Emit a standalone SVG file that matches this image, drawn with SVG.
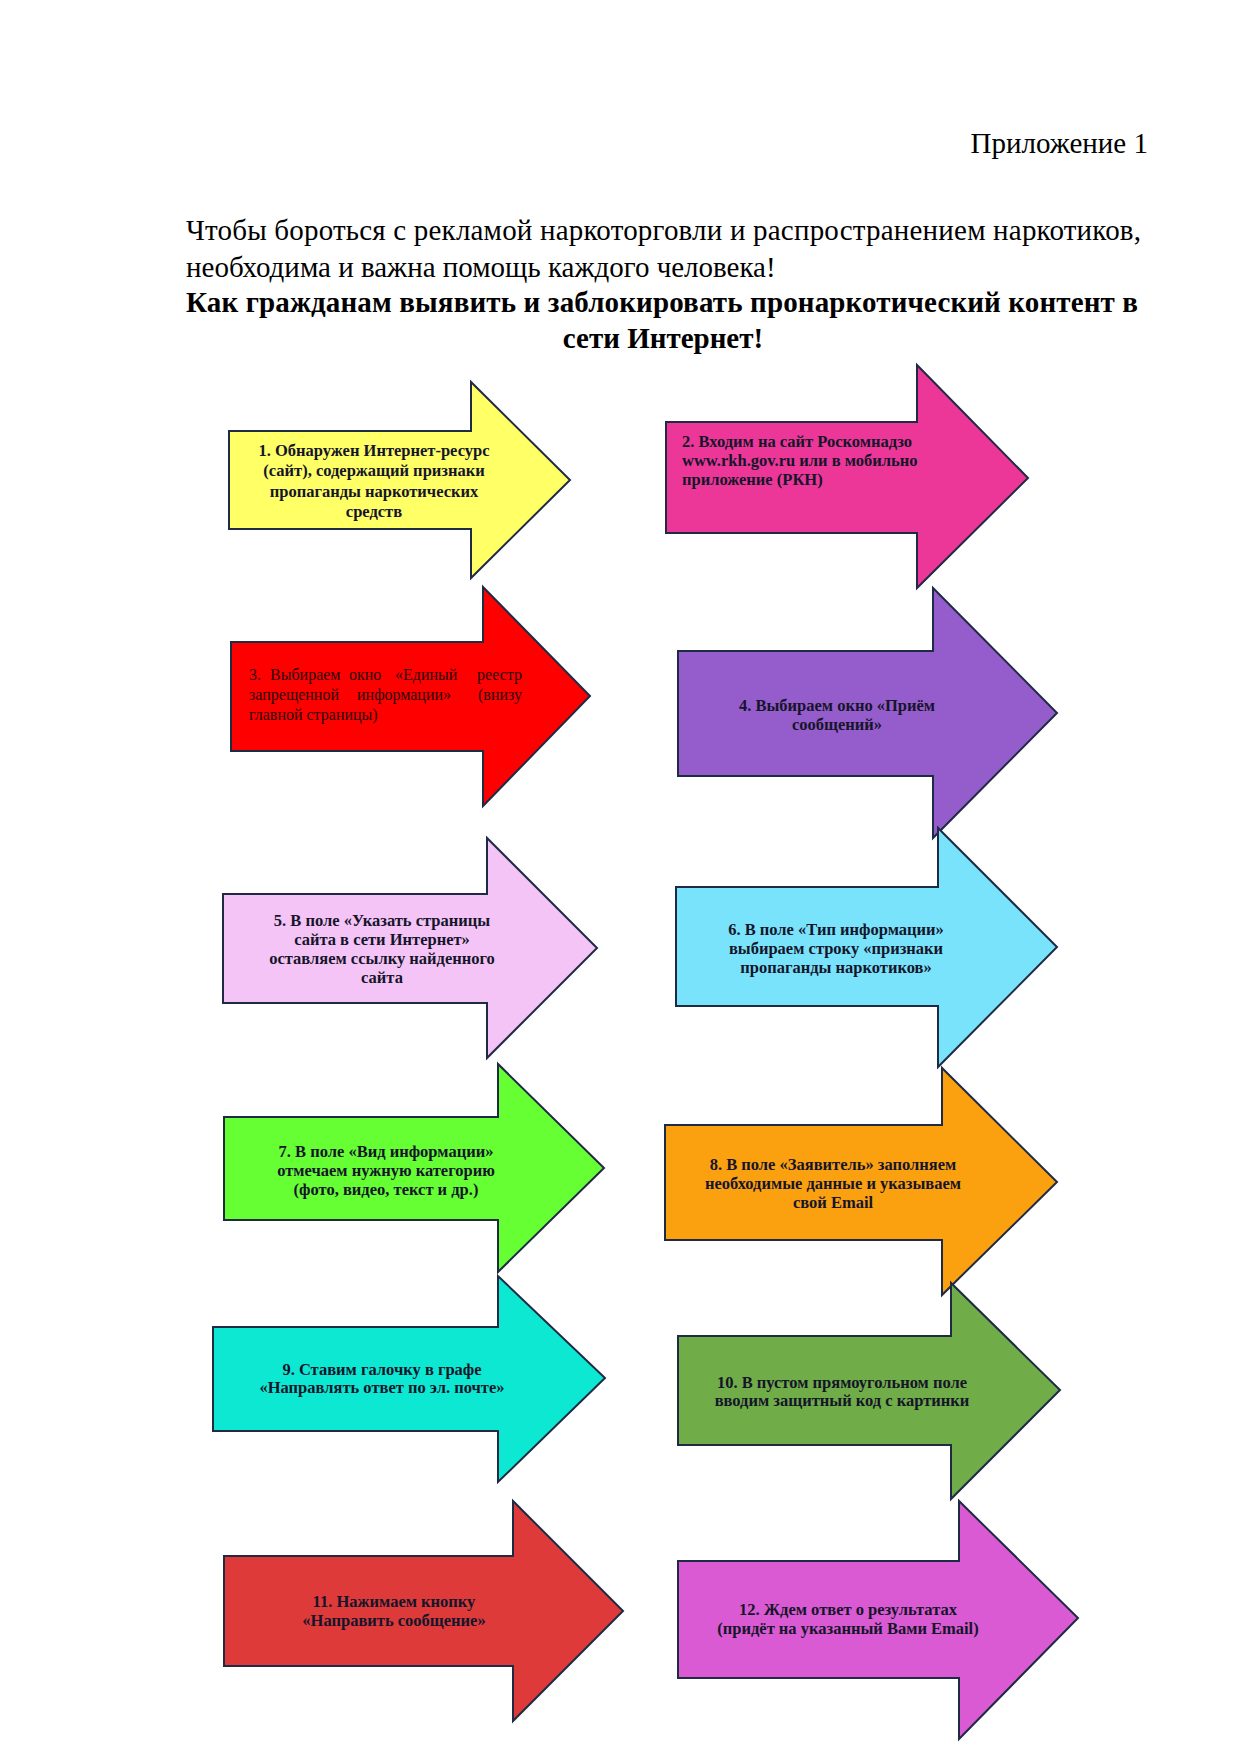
<svg xmlns="http://www.w3.org/2000/svg" width="1240" height="1755" viewBox="0 0 1240 1755">
<style>
.hdr{font-family:"Liberation Serif","Times New Roman",serif;font-size:29px;fill:#000}
.b{font-weight:bold}
.arr{stroke:#1f2a44;stroke-width:2;stroke-linejoin:miter}
.t{font-family:"Liberation Serif","Times New Roman",serif;font-size:16.5px;font-weight:bold;fill:#15152a;text-anchor:middle}
.tl{text-anchor:start}
.tr{font-family:"Liberation Serif","Times New Roman",serif;font-size:16px;fill:#2a0505}
</style>
<rect width="1240" height="1755" fill="#fff"/>
<g id="header">
<text class="hdr" x="1148" y="153" text-anchor="end">Приложение 1</text>
<text class="hdr" x="186" y="240" textLength="955" lengthAdjust="spacing">Чтобы бороться с рекламой наркоторговли и распространением наркотиков,</text>
<text class="hdr" x="186" y="277">необходима и важна помощь каждого человека!</text>
<text class="hdr b" x="662" y="312" text-anchor="middle" textLength="952" lengthAdjust="spacing">Как гражданам выявить и заблокировать пронаркотический контент в</text>
<text class="hdr b" x="663" y="348" text-anchor="middle">сети Интернет!</text>
</g>
<g id="connectors"/>
<g id="step1">
<polygon class="arr" fill="#ffff66" points="229,431 471,431 471,382 570,480 471,578 471,529 229,529"/>
<text class="t"><tspan x="374" y="456">1. Обнаружен Интернет-ресурс</tspan><tspan x="374" y="476">(сайт), содержащий признаки</tspan><tspan x="374" y="497">пропаганды наркотических</tspan><tspan x="374" y="517">средств</tspan></text>
</g>
<g id="step2">
<polygon class="arr" fill="#ec3799" points="666,422 917,422 917,365 1028,478 917,588 917,533 666,533"/>
<text class="t tl"><tspan x="682" y="447">2. Входим на сайт Роскомнадзо</tspan><tspan x="682" y="466">www.rkh.gov.ru или в мобильно</tspan><tspan x="682" y="485">приложение (РКН)</tspan></text>
</g>
<g id="step3">
<polygon class="arr" fill="#ff0000" points="231,642 483,642 483,587 590,696 483,806 483,751 231,751"/>
<text class="tr"><tspan x="249" y="680">3.</tspan><tspan x="270" y="680">Выбираем</tspan><tspan x="349" y="680">окно</tspan><tspan x="395" y="680">«Единый</tspan></text>
<text class="tr" x="522" y="680" text-anchor="end">реестр</text>
<text class="tr"><tspan x="249" y="700">запрещенной</tspan><tspan x="357" y="700">информации»</tspan></text>
<text class="tr" x="522" y="700" text-anchor="end">(внизу</text>
<text class="tr" x="249" y="720">главной страницы)</text>
</g>
<g id="step4">
<polygon class="arr" fill="#955ccc" points="678,651 933,651 933,588 1057,713 933,838 933,776 678,776"/>
<text class="t"><tspan x="837" y="711">4. Выбираем окно «Приём</tspan><tspan x="837" y="730">сообщений»</tspan></text>
</g>
<g id="step5">
<polygon class="arr" fill="#f5c4f7" points="223,894 487,894 487,838 597,948 487,1058 487,1003 223,1003"/>
<text class="t"><tspan x="382" y="926">5. В поле «Указать страницы</tspan><tspan x="382" y="945">сайта в сети Интернет»</tspan><tspan x="382" y="964">оставляем ссылку найденного</tspan><tspan x="382" y="983">сайта</tspan></text>
</g>
<g id="step6">
<polygon class="arr" fill="#79e3fc" points="676,887 938,887 938,828 1057,947 938,1067 938,1006 676,1006"/>
<text class="t"><tspan x="836" y="935">6. В поле «Тип информации»</tspan><tspan x="836" y="954">выбираем строку «признаки</tspan><tspan x="836" y="973">пропаганды наркотиков»</tspan></text>
</g>
<g id="step7">
<polygon class="arr" fill="#66ff33" points="224,1117 498,1117 498,1064 604,1168 498,1272 498,1220 224,1220"/>
<text class="t"><tspan x="386" y="1157">7. В поле «Вид информации»</tspan><tspan x="386" y="1176">отмечаем нужную категорию</tspan><tspan x="386" y="1195">(фото, видео, текст и др.)</tspan></text>
</g>
<g id="step8">
<polygon class="arr" fill="#fba00f" points="665,1125 942,1125 942,1068 1057,1182 942,1295 942,1240 665,1240"/>
<text class="t"><tspan x="833" y="1170">8. В поле «Заявитель» заполняем</tspan><tspan x="833" y="1189">необходимые данные и указываем</tspan><tspan x="833" y="1208">свой Email</tspan></text>
</g>
<g id="step9">
<polygon class="arr" fill="#0ce8d2" points="213,1327 498,1327 498,1276 605,1378 498,1482 498,1431 213,1431"/>
<text class="t"><tspan x="382" y="1375">9. Ставим галочку в графе</tspan><tspan x="382" y="1393">«Направлять ответ по эл. почте»</tspan></text>
</g>
<g id="step10">
<polygon class="arr" fill="#70ac47" points="678,1336 951,1336 951,1283 1060,1390 951,1499 951,1445 678,1445"/>
<text class="t"><tspan x="842" y="1388">10. В пустом прямоугольном поле</tspan><tspan x="842" y="1406">вводим защитный код с картинки</tspan></text>
</g>
<g id="step11">
<polygon class="arr" fill="#de3a3a" points="224,1556 513,1556 513,1501 623,1611 513,1721 513,1666 224,1666"/>
<text class="t"><tspan x="394" y="1607">11. Нажимаем кнопку</tspan><tspan x="394" y="1626">«Направить сообщение»</tspan></text>
</g>
<g id="step12">
<polygon class="arr" fill="#d95ad3" points="678,1561 959,1561 959,1501 1078,1618 959,1739 959,1678 678,1678"/>
<text class="t"><tspan x="848" y="1615">12. Ждем ответ о результатах</tspan><tspan x="848" y="1634">(придёт на указанный Вами Email)</tspan></text>
</g>
</svg>
